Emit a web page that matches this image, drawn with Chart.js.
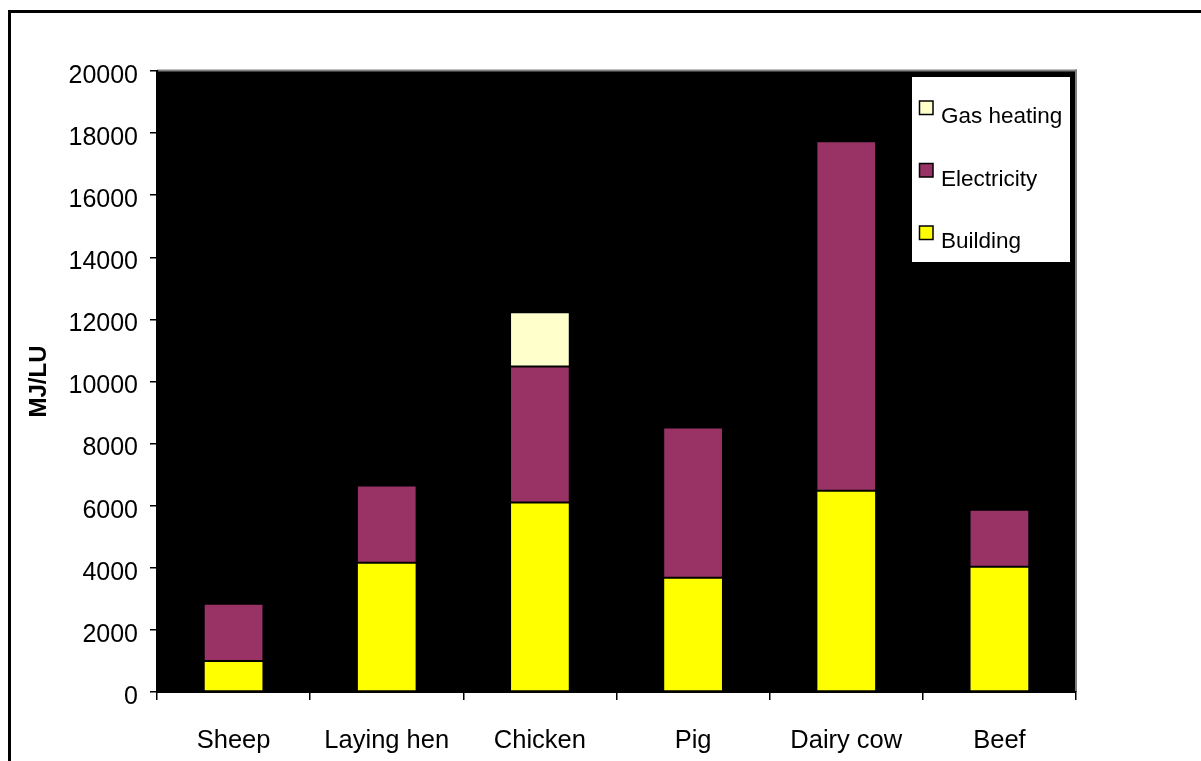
<!DOCTYPE html>
<html>
<head>
<meta charset="utf-8">
<style>
  html, body { margin: 0; padding: 0; background: #fff; }
  #wrap { position: absolute; left: 0; top: 0; width: 1201px; height: 761px; }
</style>
<script src="https://cdn.jsdelivr.net/npm/chart.js@4/dist/chart.umd.min.js"></script>
</head>
<body>
<div id="wrap"><canvas id="c" width="1201" height="761"></canvas></div>
<script>
// Energy use in animal housing, MJ per livestock unit
const categories = ['Sheep', 'Laying hen', 'Chicken', 'Pig', 'Dairy cow', 'Beef'];
const building    = [1000, 4160, 6100, 3680, 6480, 4030];
const electricity = [1840, 2490, 4380, 4840, 11260, 1840];
const gasHeating  = [0, 0, 1750, 0, 0, 0];
const yTicks = [0, 2000, 4000, 6000, 8000, 10000, 12000, 14000, 16000, 18000, 20000];

const FONT = '"Liberation Sans", Arial, sans-serif';

// Page frame, black plot background and the grey top/right edges
const frameAndBackground = {
  id: 'frameAndBackground',
  beforeDraw(chart) {
    const { ctx, chartArea: a } = chart;
    ctx.save();
    ctx.fillStyle = '#000';
    ctx.fillRect(8, 10, 3, 751);
    ctx.fillRect(8, 10, 1193, 3);
    ctx.fillRect(a.left, a.top, a.right - a.left, a.bottom - a.top);
    ctx.fillStyle = '#808080';
    ctx.fillRect(a.left, a.top - 1.5, a.right - a.left + 1, 2);
    ctx.fillRect(a.right - 1, a.top - 1.5, 2, a.bottom - a.top + 1.5);
    ctx.restore();
  }
};

// Legend box drawn inside the plot, top right
const insideLegend = {
  id: 'insideLegend',
  afterDraw(chart) {
    const { ctx, chartArea: a } = chart;
    const x0 = a.right - 164, y0 = a.top + 6, w = 158, h = 185;
    ctx.save();
    ctx.fillStyle = '#fff';
    ctx.fillRect(x0, y0, w, h);
    const items = chart.data.datasets.slice().reverse();
    ctx.font = '22.5px ' + FONT;
    ctx.textBaseline = 'alphabetic';
    ctx.textAlign = 'left';
    items.forEach((ds, i) => {
      const by = y0 + 46 + i * 62.5;
      ctx.fillStyle = ds.backgroundColor;
      ctx.fillRect(x0 + 7.5, by - 22, 13.5, 13.5);
      ctx.strokeStyle = '#000';
      ctx.lineWidth = 1.5;
      ctx.strokeRect(x0 + 7.5, by - 22, 13.5, 13.5);
      ctx.fillStyle = '#000';
      ctx.fillText(ds.label, x0 + 29, by);
    });
    ctx.restore();
  }
};

const barStyle = { borderColor: '#000', borderWidth: 1, borderSkipped: false,
                   barPercentage: 0.39, categoryPercentage: 1.0 };

new Chart(document.getElementById('c'), {
  type: 'bar',
  data: {
    labels: categories,
    datasets: [
      Object.assign({ label: 'Building', data: building, backgroundColor: '#FFFF00' }, barStyle),
      Object.assign({ label: 'Electricity', data: electricity, backgroundColor: '#993366' }, barStyle),
      Object.assign({ label: 'Gas heating', data: gasHeating, backgroundColor: '#FFFFCC' }, barStyle)
    ]
  },
  options: {
    responsive: false,
    animation: false,
    layout: { padding: { left: 0, right: 125, top: 71, bottom: 0 } },
    plugins: { legend: { display: false }, tooltip: { enabled: false } },
    scales: {
      x: {
        stacked: true,
        afterFit(s) { s.height = 69; },
        grid: { offset: true, drawOnChartArea: false, drawTicks: true, tickLength: 8,
                color: '#000', lineWidth: 1.5 },
        border: { display: true, color: '#000', width: 2 },
        ticks: { color: '#000', font: { family: FONT, size: 25.5 }, padding: 26, maxRotation: 0 }
      },
      y: {
        stacked: true,
        min: 0, max: 20000,
        afterFit(s) { s.width = 157; },
        afterBuildTicks(s) { s.ticks = yTicks.map(v => ({ value: v })); },
        grid: { drawOnChartArea: false, drawTicks: true, tickLength: 7, color: '#000', lineWidth: 1.5 },
        border: { display: true, color: '#000', width: 2 },
        ticks: { color: '#000', font: { family: FONT, size: 25 }, padding: 12, labelOffset: 5,
                 callback: v => String(v) },
        title: { display: true, text: 'MJ/LU', color: '#000',
                 font: { family: FONT, size: 24, weight: 'bold' }, padding: { top: 25, bottom: 0 } }
      }
    }
  },
  plugins: [frameAndBackground, insideLegend]
});
</script>
</body>
</html>
